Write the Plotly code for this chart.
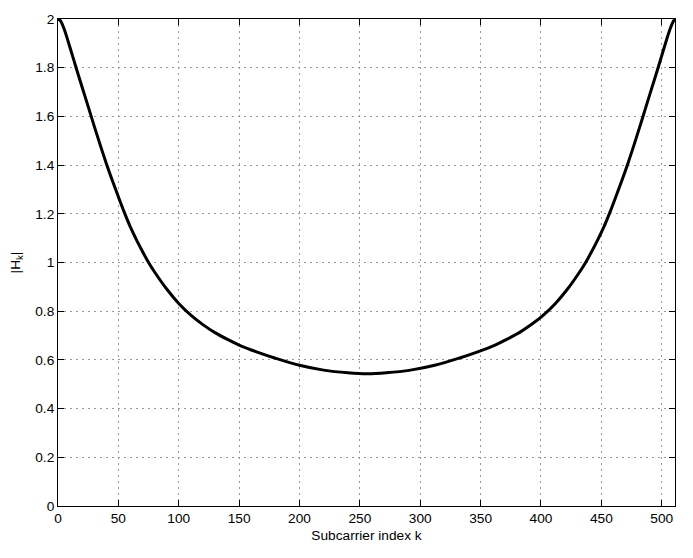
import plotly.graph_objects as go

# |H_k|
k_index = [0, 2, 5, 10, 15, 20, 25, 30, 35, 40, 45, 50, 55, 60, 65, 70, 75, 80,
           90, 100, 110, 120, 130, 140, 150, 165, 180, 200, 220, 240, 256,
           272, 292, 312, 332, 347, 362, 372, 382, 392, 402, 412, 422, 432,
           437, 442, 447, 452, 457, 462, 467, 472, 477, 482, 487, 492, 497,
           502, 507, 510, 511]
h_mag = [2.0, 1.993, 1.96, 1.882, 1.8, 1.72, 1.64, 1.56, 1.482, 1.407, 1.337,
         1.27, 1.205, 1.145, 1.093, 1.045, 1.0, 0.961, 0.891, 0.832, 0.784,
         0.745, 0.712, 0.685, 0.661, 0.632, 0.607, 0.578, 0.558, 0.547, 0.543,
         0.547, 0.558, 0.578, 0.607, 0.632, 0.661, 0.685, 0.712, 0.745, 0.784,
         0.832, 0.891, 0.961, 1.0, 1.045, 1.093, 1.145, 1.205, 1.27, 1.337,
         1.407, 1.482, 1.56, 1.64, 1.72, 1.8, 1.882, 1.96, 1.993, 1.998]

x_ticks = [0, 50, 100, 150, 200, 250, 300, 350, 400, 450, 500]
y_ticks = [0, 0.2, 0.4, 0.6, 0.8, 1, 1.2, 1.4, 1.6, 1.8, 2]
y_tick_text = ["0", "0.2", "0.4", "0.6", "0.8", "1", "1.2", "1.4", "1.6", "1.8", "2"]

FONT = "Liberation Sans, Arial"
FONT_SIZE = 13.7

fig = go.Figure()
fig.add_trace(
    go.Scatter(
        x=k_index,
        y=h_mag,
        mode="lines",
        line=dict(color="black", width=3, shape="spline", smoothing=1.0),
        showlegend=False,
    )
)

axis_style = dict(
    showline=True,
    linecolor="black",
    linewidth=1,
    mirror="ticks",
    ticks="inside",
    ticklen=6,
    tickcolor="black",
    showgrid=True,
    gridcolor="#999999",
    griddash="2px,4px",
    gridwidth=1,
    zeroline=False,
    automargin=False,
    tickfont=dict(family=FONT, size=FONT_SIZE, color="black"),
)

fig.update_xaxes(
    range=[0, 511],
    tickvals=x_ticks,
    title=dict(text="Subcarrier index k", standoff=4,
               font=dict(family=FONT, size=FONT_SIZE, color="black")),
    **axis_style,
)
fig.update_yaxes(
    range=[0, 2],
    tickvals=y_ticks,
    ticktext=y_tick_text,
    title=dict(text="|H<sub>k</sub>|", standoff=12,
               font=dict(family=FONT, size=FONT_SIZE, color="black")),
    **axis_style,
)

# page body adds an 8px offset, so the figure is a bit smaller than the window
fig.update_layout(
    width=685,
    height=550,
    margin=dict(l=50, r=18, t=11, b=52),
    paper_bgcolor="white",
    plot_bgcolor="white",
)

fig.write_html("out.html")
